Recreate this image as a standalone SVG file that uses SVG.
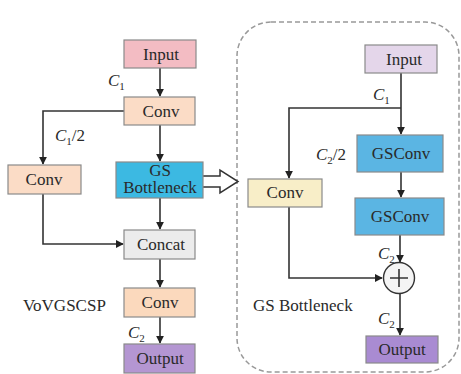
<svg xmlns="http://www.w3.org/2000/svg" width="461" height="374" viewBox="0 0 461 374">
<defs>
<style>
.box{stroke:#8a8a8a;stroke-width:1.2}
.t{font-family:"Liberation Serif","DejaVu Serif",serif;font-size:17px;fill:#2a2a2a;text-anchor:middle}
.lbl{font-family:"Liberation Serif","DejaVu Serif",serif;font-size:17px;fill:#2a2a2a}
.it{font-style:italic}
.sub{font-size:11px}
.ln{fill:none;stroke:#333;stroke-width:1.6}
</style>
<marker id="ah" viewBox="0 0 10 10" refX="9" refY="5" markerWidth="5" markerHeight="5" orient="auto">
<path d="M0,0 L10,5 L0,10 z" fill="#222"/>
</marker>
</defs>
<rect width="461" height="374" fill="#fff"/>
<rect x="237" y="22" width="222" height="350" rx="34" ry="34" fill="none" stroke="#999" stroke-width="1.5" stroke-dasharray="5,3"/>
<g id="connectors">
<path class="ln" d="M160,68 V96" marker-end="url(#ah)"/>
<path class="ln" d="M124,111 H43 V164" marker-end="url(#ah)"/>
<path class="ln" d="M160,125 V161" marker-end="url(#ah)"/>
<path class="ln" d="M160,198 V229" marker-end="url(#ah)"/>
<path class="ln" d="M43,194 V244 H123" marker-end="url(#ah)"/>
<path class="ln" d="M160,259 V287" marker-end="url(#ah)"/>
<path class="ln" d="M160,317 V343" marker-end="url(#ah)"/>
<path d="M203,176 H220 V170 L238,181.5 L220,193 V187 H203" fill="#fff" stroke="#333" stroke-width="1.5" stroke-linejoin="miter"/>
<path class="ln" d="M401,73 V134" marker-end="url(#ah)"/>
<path class="ln" d="M401,108 H289 V178" marker-end="url(#ah)"/>
<path class="ln" d="M401,172 V197" marker-end="url(#ah)"/>
<path class="ln" d="M400,235 V262" marker-end="url(#ah)"/>
<path class="ln" d="M289,207 V278 H382" marker-end="url(#ah)"/>
<path class="ln" d="M400,294 V335" marker-end="url(#ah)"/>
</g>
<g id="left-input"><rect class="box" x="124" y="40" width="72" height="28" fill="#f3bcc3"/><text class="t" x="161" y="60">Input</text></g>
<g id="left-conv1"><rect class="box" x="124" y="97" width="71" height="28" fill="#fbdcc6"/><text class="t" x="161" y="117">Conv</text></g>
<g id="left-conv2"><rect class="box" x="8" y="165" width="73" height="29" fill="#fbdcc6"/><text class="t" x="44" y="185">Conv</text></g>
<g id="gs-bottleneck"><rect class="box" x="116" y="162" width="87" height="36" fill="#3cb9e2"/><text class="t" x="160" y="175.5" font-size="15">GS</text><text class="t" x="160" y="193" font-size="15">Bottleneck</text></g>
<g id="concat"><rect class="box" x="124" y="230" width="71" height="29" fill="#ececec"/><text class="t" x="161" y="250">Concat</text></g>
<g id="left-conv3"><rect class="box" x="124" y="288" width="71" height="29" fill="#fbd9bd"/><text class="t" x="160" y="308">Conv</text></g>
<g id="left-output"><rect class="box" x="124" y="344" width="71" height="29" fill="#b496d2"/><text class="t" x="160" y="364">Output</text></g>
<g id="right-input"><rect class="box" x="365" y="45" width="72" height="28" fill="#e4d6ea"/><text class="t" x="404" y="65">Input</text></g>
<g id="gsconv1"><rect class="box" x="357" y="135" width="86" height="37" fill="#5bb5e3"/><text class="t" x="401" y="159">GSConv</text></g>
<g id="right-conv"><rect class="box" x="248" y="179" width="74" height="28" fill="#f8eec8"/><text class="t" x="285" y="198">Conv</text></g>
<g id="gsconv2"><rect class="box" x="355" y="198" width="89" height="37" fill="#5bb5e3"/><text class="t" x="400" y="222">GSConv</text></g>
<g id="add"><circle cx="399" cy="278" r="15.5" fill="#f4f4f4" stroke="#333" stroke-width="1.4"/><path d="M390,278 H408 M399,269 V287" stroke="#333" stroke-width="1.6"/></g>
<g id="right-output"><rect class="box" x="366" y="336" width="72" height="27" fill="#a98bd2"/><text class="t" x="402" y="355">Output</text></g>
<g id="labels">
<text class="lbl" x="108" y="86"><tspan class="it">C</tspan><tspan class="sub" dy="4">1</tspan></text>
<text class="lbl" x="55" y="141"><tspan class="it">C</tspan><tspan class="sub" dy="4">1</tspan><tspan dy="-4">/2</tspan></text>
<text class="lbl" x="23" y="311">VoVGSCSP</text>
<text class="lbl" x="128" y="338"><tspan class="it">C</tspan><tspan class="sub" dy="4">2</tspan></text>
<text class="lbl" x="373" y="100"><tspan class="it">C</tspan><tspan class="sub" dy="4">1</tspan></text>
<text class="lbl" x="316" y="160"><tspan class="it">C</tspan><tspan class="sub" dy="4">2</tspan><tspan dy="-4">/2</tspan></text>
<text class="lbl" x="378" y="259"><tspan class="it">C</tspan><tspan class="sub" dy="4">2</tspan></text>
<text class="lbl" x="253" y="311">GS Bottleneck</text>
<text class="lbl" x="378" y="324"><tspan class="it">C</tspan><tspan class="sub" dy="4">2</tspan></text>
</g>
</svg>
